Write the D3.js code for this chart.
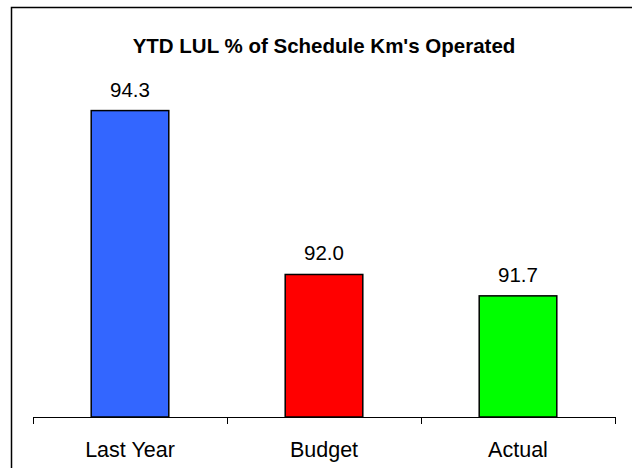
<!DOCTYPE html>
<html>
<head>
<meta charset="utf-8">
<style>
  body { margin: 0; background: #fff; }
  text { font-family: "Liberation Sans", Arial, sans-serif; fill: #000; }
  .bar { stroke: #000; stroke-width: 1.5px; }
  .axis line { stroke: #000; shape-rendering: crispEdges; }
</style>
</head>
<body>
<script src="https://cdnjs.cloudflare.com/ajax/libs/d3/7.8.5/d3.min.js"></script>
<script>
var categories = ["Last Year", "Budget", "Actual"];
var values = [94.3, 92.0, 91.7];
var colors = ["#3366FF", "#FF0000", "#00FF00"];
var yDomain = [90, 95];

var width = 632, height = 468;

var svg = d3.select("body").append("svg")
    .attr("width", width)
    .attr("height", height);

// frame (right and bottom edges fall outside the picture)
svg.append("rect")
    .attr("x", 11.5).attr("y", 7.5)
    .attr("width", 640).attr("height", 480)
    .attr("fill", "none")
    .attr("stroke", "#000")
    .attr("stroke-width", 1.5);

var x = d3.scaleBand()
    .domain(categories)
    .range([33, 615])
    .paddingInner(0.6)
    .paddingOuter(0.3);

var y = d3.scaleLinear()
    .domain(yDomain)
    .range([417, 60.7]);

svg.append("text")
    .attr("x", 324)
    .attr("y", 53)
    .attr("text-anchor", "middle")
    .style("font-size", "20.5px")
    .style("font-weight", "bold")
    .text("YTD LUL % of Schedule Km's Operated");

svg.selectAll(".bar")
    .data(values)
  .enter().append("rect")
    .attr("class", "bar")
    .attr("x", function(d, i) { return x(categories[i]); })
    .attr("y", function(d) { return y(d); })
    .attr("width", x.bandwidth())
    .attr("height", function(d) { return y(yDomain[0]) - y(d); })
    .attr("fill", function(d, i) { return colors[i]; });

svg.selectAll(".val")
    .data(values)
  .enter().append("text")
    .attr("class", "val")
    .attr("x", function(d, i) { return x(categories[i]) + x.bandwidth() / 2; })
    .attr("y", function(d) { return y(d) - 14; })
    .attr("text-anchor", "middle")
    .style("font-size", "20.5px")
    .text(function(d) { return d.toFixed(1); });

// x axis with ticks between the categories
var edges = d3.range(categories.length + 1).map(function(i) { return 33 + i * x.step(); });

var axis = svg.append("g").attr("class", "axis");
axis.append("line")
    .attr("x1", 33).attr("x2", 615)
    .attr("y1", 417.5).attr("y2", 417.5);
axis.selectAll(".tick")
    .data(edges)
  .enter().append("line")
    .attr("x1", function(d) { return Math.round(d) + 0.5; })
    .attr("x2", function(d) { return Math.round(d) + 0.5; })
    .attr("y1", 417).attr("y2", 424);

svg.selectAll(".cat")
    .data(categories)
  .enter().append("text")
    .attr("class", "cat")
    .attr("x", function(d) { return x(d) + x.bandwidth() / 2; })
    .attr("y", 457)
    .attr("text-anchor", "middle")
    .style("font-size", "21.5px")
    .text(function(d) { return d; });
</script>
</body>
</html>
